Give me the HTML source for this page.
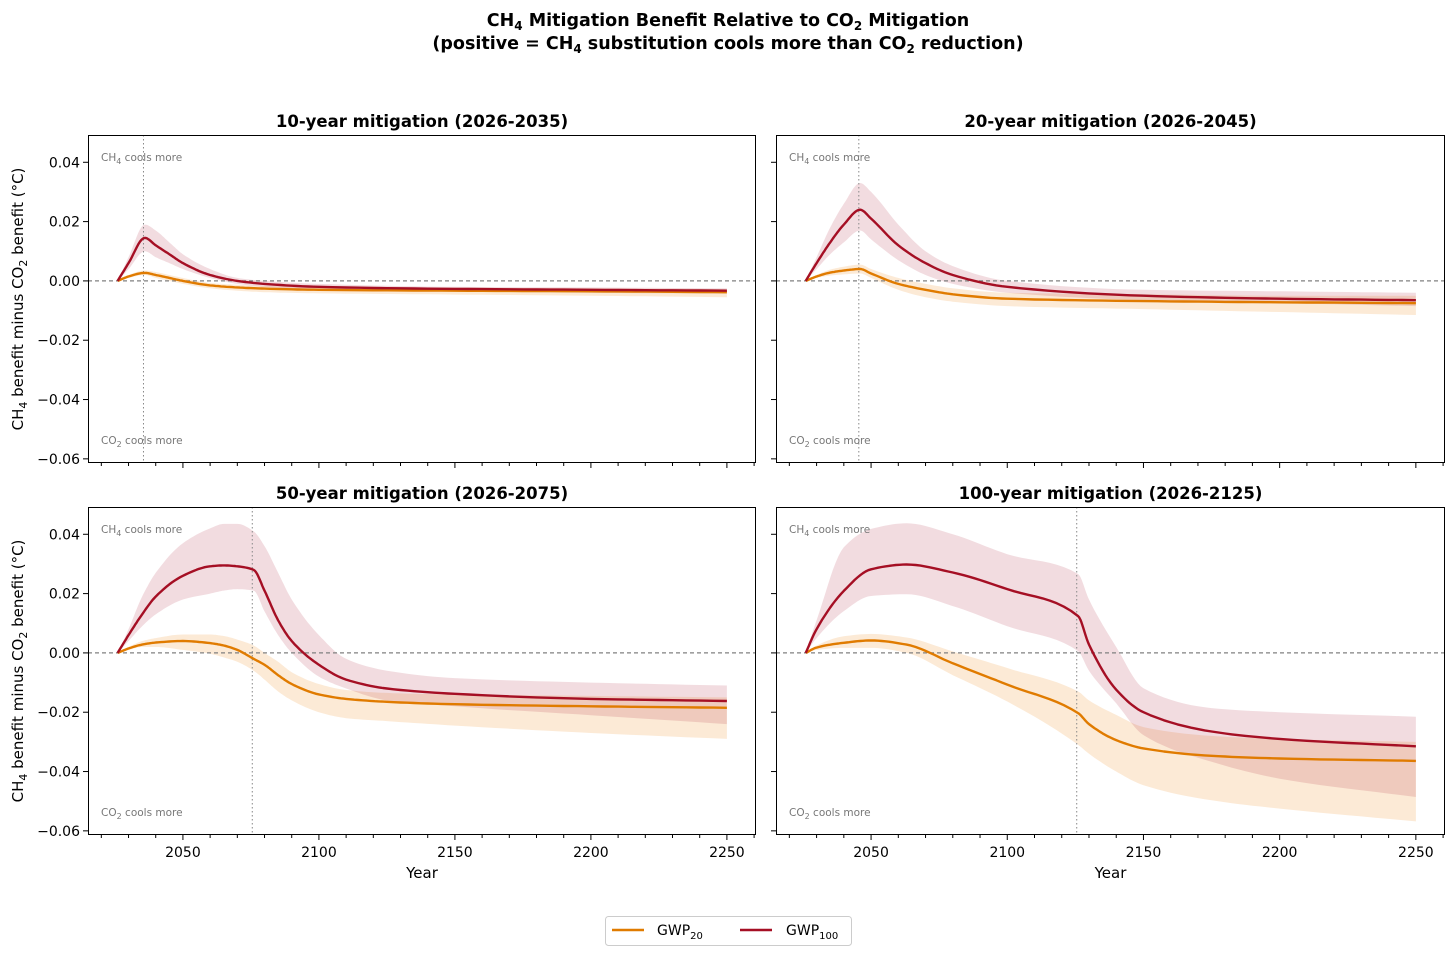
<!DOCTYPE html>
<html><head><meta charset="utf-8"><style>
body{margin:0;background:#fff;}
svg{display:block;font-family:"DejaVu Sans","Liberation Sans",sans-serif;}
</style></head><body>
<svg id="chart" width="1456" height="956">
<text x="728" y="26" text-anchor="middle" font-size="17.5" font-weight="bold">CH<tspan font-size="12" dy="4">4</tspan><tspan dy="-4"> Mitigation Benefit Relative to CO</tspan><tspan font-size="12" dy="4">2</tspan><tspan dy="-4"> Mitigation</tspan></text>
<text x="728" y="49" text-anchor="middle" font-size="17.5" font-weight="bold">(positive = CH<tspan font-size="12" dy="4">4</tspan><tspan dy="-4"> substitution cools more than CO</tspan><tspan font-size="12" dy="4">2</tspan><tspan dy="-4"> reduction)</tspan></text>
<g id="legend">
<rect x="605.5" y="916.5" width="246" height="29" fill="#fff" stroke="#ccc" rx="3"/>
<line x1="612" y1="930" x2="644" y2="930" stroke="#e07b00" stroke-width="2.5"/>
<text x="657" y="935" font-size="14">GWP<tspan font-size="10" dy="4">20</tspan></text>
<line x1="740" y1="930" x2="772" y2="930" stroke="#a50f24" stroke-width="2.5"/>
<text x="786" y="935" font-size="14">GWP<tspan font-size="10" dy="4">100</tspan></text>
</g>
</svg>
<script>
// Panel A: 10-year
const yearsA=[2026,2030,2036,2040,2045,2050,2060,2070,2080,2100,2150,2200,2250];
const g100A=[0,0.006,0.0145,0.012,0.009,0.006,0.002,0,-0.001,-0.002,-0.0027,-0.003,-0.0033];
const g100hiA=[0,0.008,0.019,0.017,0.013,0.009,0.004,0.001,0,-0.001,-0.002,-0.0022,-0.0025];
const g100loA=[0,0.004,0.010,0.008,0.006,0.004,0.001,-0.001,-0.002,-0.003,-0.0035,-0.004,-0.0043];
const g20A=[0,0.0015,0.0027,0.002,0.001,0,-0.0015,-0.0022,-0.0026,-0.003,-0.0033,-0.0035,-0.0038];
const g20hiA=[0,0.002,0.0035,0.003,0.002,0.001,-0.0007,-0.0013,-0.0017,-0.002,-0.0023,-0.0025,-0.0028];
const g20loA=[0,0.001,0.002,0.001,0,-0.001,-0.0025,-0.0033,-0.0038,-0.0042,-0.0046,-0.005,-0.0055];
// Panel B: 20-year
const yearsB=[2026,2030,2035,2040,2046,2050,2060,2070,2080,2100,2150,2200,2250];
const g100B=[0,0.006,0.013,0.019,0.024,0.021,0.012,0.006,0.002,-0.002,-0.005,-0.006,-0.0065];
const g100hiB=[0,0.008,0.018,0.026,0.033,0.030,0.019,0.010,0.005,0,-0.003,-0.0035,-0.004];
const g100loB=[0,0.004,0.009,0.013,0.017,0.014,0.007,0.002,-0.001,-0.004,-0.0065,-0.0075,-0.0085];
const g20B=[0,0.0015,0.0028,0.0035,0.004,0.0025,-0.001,-0.003,-0.0045,-0.006,-0.0068,-0.0072,-0.0075];
const g20hiB=[0,0.002,0.0038,0.0048,0.0055,0.004,0.001,-0.001,-0.0025,-0.004,-0.0045,-0.005,-0.005];
const g20loB=[0,0.001,0.0018,0.0022,0.0025,0.001,-0.003,-0.0055,-0.007,-0.0085,-0.0095,-0.0105,-0.0115];
// Panel C: 50-year
const yearsC=[2026,2030,2035,2040,2050,2060,2065,2070,2076,2080,2085,2090,2100,2110,2125,2150,2200,2250];
const g100C=[0,0.006,0.013,0.019,0.026,0.0292,0.0295,0.0292,0.028,0.021,0.011,0.004,-0.004,-0.009,-0.012,-0.0138,-0.0155,-0.0162];
const g100hiC=[0,0.008,0.019,0.027,0.037,0.042,0.0435,0.0435,0.041,0.036,0.027,0.018,0.006,-0.002,-0.006,-0.0085,-0.010,-0.011];
const g100loC=[0,0.004,0.009,0.013,0.018,0.020,0.021,0.0215,0.021,0.014,0.006,0,-0.008,-0.012,-0.016,-0.018,-0.021,-0.024];
const g20C=[0,0.0015,0.0028,0.0035,0.004,0.0033,0.0025,0.001,-0.002,-0.004,-0.0075,-0.0105,-0.014,-0.0155,-0.0165,-0.0173,-0.018,-0.0185];
const g20hiC=[0,0.002,0.004,0.005,0.0062,0.0062,0.0057,0.0045,0.0025,0,-0.003,-0.0065,-0.0105,-0.0125,-0.0135,-0.014,-0.0145,-0.015];
const g20loC=[0,0.001,0.002,0.002,0.001,-0.0003,-0.0015,-0.003,-0.006,-0.009,-0.013,-0.016,-0.02,-0.022,-0.023,-0.0245,-0.027,-0.029];
// Panel D: 100-year
const yearsD=[2026,2030,2040,2050,2063,2080,2100,2126,2130,2140,2150,2175,2200,2250];
const g100D=[0,0.008,0.0209,0.0282,0.0298,0.0271,0.0215,0.0124,0.0028,-0.0124,-0.020,-0.0265,-0.029,-0.0315];
const g100hiD=[0,0.011,0.0356,0.0418,0.0437,0.040,0.0333,0.0266,0.018,0.002,-0.0119,-0.0186,-0.020,-0.0215];
const g100loD=[0,0.005,0.0141,0.0192,0.0198,0.0158,0.009,0.0006,-0.006,-0.017,-0.0277,-0.0367,-0.0424,-0.0486];
const g20D=[0,0.0018,0.0034,0.0042,0.0028,-0.0035,-0.0107,-0.0203,-0.024,-0.0294,-0.0322,-0.0347,-0.0356,-0.0364];
const g20hiD=[0,0.0025,0.0056,0.0064,0.0052,0.0005,-0.0051,-0.013,-0.016,-0.0209,-0.025,-0.028,-0.029,-0.030];
const g20loD=[0,0.001,0.0017,0.0017,0,-0.0075,-0.0164,-0.031,-0.034,-0.040,-0.0446,-0.0497,-0.0525,-0.0568];

const yTicks=[0.04,0.02,0,-0.02,-0.04,-0.06];
const yTickLabels=["0.04","0.02","0.00","\u22120.02","\u22120.04","\u22120.06"];
const xTicks=[2050,2100,2150,2200,2250];

const NS="http://www.w3.org/2000/svg";
const svg=document.getElementById('chart');
function mk(tag,attrs,parent){const e=document.createElementNS(NS,tag);for(const k in attrs)e.setAttribute(k,attrs[k]);(parent||svg).appendChild(e);return e;}

const panels=[
 {x0:88,x1:756,y0:135,y1:463,title:"10-year mitigation (2026-2035)",end:2035.5,yrs:yearsA,a:[g100A,g100hiA,g100loA,g20A,g20hiA,g20loA],left:true,bottom:false,name:'panel-10yr'},
 {x0:776,x1:1445,y0:135,y1:463,title:"20-year mitigation (2026-2045)",end:2045.5,yrs:yearsB,a:[g100B,g100hiB,g100loB,g20B,g20hiB,g20loB],left:false,bottom:false,name:'panel-20yr'},
 {x0:88,x1:756,y0:507,y1:835,title:"50-year mitigation (2026-2075)",end:2075.5,yrs:yearsC,a:[g100C,g100hiC,g100loC,g20C,g20hiC,g20loC],left:true,bottom:true,name:'panel-50yr'},
 {x0:776,x1:1445,y0:507,y1:835,title:"100-year mitigation (2026-2125)",end:2125.5,yrs:yearsD,a:[g100D,g100hiD,g100loD,g20D,g20hiD,g20loD],left:false,bottom:true,name:'panel-100yr'}
];

// monotone cubic (Fritsch-Carlson) sampling
function smoothPts(xs,ys){
 const n=xs.length,d=[],m=[];
 for(let i=0;i<n-1;i++)d.push((ys[i+1]-ys[i])/(xs[i+1]-xs[i]));
 m[0]=d[0];m[n-1]=d[n-2];
 for(let i=1;i<n-1;i++){
  if(d[i-1]*d[i]<=0)m[i]=0;
  else{const h0=xs[i]-xs[i-1],h1=xs[i+1]-xs[i];const w1=2*h1+h0,w2=h1+2*h0;m[i]=(w1+w2)/(w1/d[i-1]+w2/d[i]);}
 }
 const out=[];
 for(let i=0;i<n-1;i++){
  const h=xs[i+1]-xs[i];
  for(let t=0;t<1;t+=0.1){
   const t2=t*t,t3=t2*t;
   const y=(2*t3-3*t2+1)*ys[i]+(t3-2*t2+t)*h*m[i]+(-2*t3+3*t2)*ys[i+1]+(t3-t2)*h*m[i+1];
   out.push([xs[i]+t*h,y]);
  }
 }
 out.push([xs[n-1],ys[n-1]]);
 return out;
}

panels.forEach(p=>{
 const g=mk('g',{});
 
 
 const sx=v=>p.x0+(v-2015.1)/(2260.7-2015.1)*(p.x1-p.x0);
 const sy=v=>p.y0+(0.0492-v)/(0.0492+0.0614)*(p.y1-p.y0);
 const xs=p.yrs.map(sx);
 function band(hi,lo,fill,name){
  const a=smoothPts(xs,hi.map(sy)),b=smoothPts(xs,lo.map(sy)).reverse();
  const e=mk('path',{d:'M'+a.concat(b).map(q=>q[0].toFixed(1)+','+q[1].toFixed(1)).join('L')+'Z',fill:fill},g);
  
  
 }
 function line(v,col,name){
  const a=smoothPts(xs,v.map(sy));
  const e=mk('path',{d:'M'+a.map(q=>q[0].toFixed(1)+','+q[1].toFixed(1)).join('L'),fill:'none',stroke:col,'stroke-width':2.4,'stroke-linejoin':'round'},g);
  
  
 }
 band(p.a[4],p.a[5],'rgba(240,150,50,0.2)','gwp20-range');
 band(p.a[1],p.a[2],'rgba(175,40,65,0.16)','gwp100-range');
 const z=mk('line',{x1:p.x0,x2:p.x1,y1:sy(0),y2:sy(0),stroke:'#808080','stroke-width':1.2,'stroke-dasharray':'4,3'},g);
 
 
 const ve=mk('line',{x1:sx(p.end),x2:sx(p.end),y1:p.y0,y2:p.y1,stroke:'#888','stroke-width':1,'stroke-dasharray':'1.5,2.5'},g);
 
 
 line(p.a[3],'#e07b00','gwp20-line');
 line(p.a[0],'#a50f24','gwp100-line');
 const fr=mk('rect',{x:p.x0+0.5,y:p.y0+0.5,width:p.x1-p.x0-1,height:p.y1-p.y0-1,fill:'none',stroke:'#000','stroke-width':1},g);
 
 
 const t=mk('text',{x:(p.x0+p.x1)/2,y:p.y0-8,'text-anchor':'middle','font-size':16.5,'font-weight':'bold'},g);
 t.textContent=p.title;
 
 
 const a1=mk('text',{x:p.x0+13,y:p.y0+26,'font-size':10.5,fill:'#777'},g);
 a1.innerHTML='CH<tspan font-size="8" dy="3">4</tspan><tspan dy="-3"> cools more</tspan>';
 
 
 const a2=mk('text',{x:p.x0+13,y:p.y1-19,'font-size':10.5,fill:'#777'},g);
 a2.innerHTML='CO<tspan font-size="8" dy="3">2</tspan><tspan dy="-3"> cools more</tspan>';
 
 
 yTicks.forEach((v,i)=>{
  mk('line',{x1:p.x0-5,x2:p.x0,y1:sy(v),y2:sy(v),stroke:'#000'},g);
  if(p.left){
   const l=mk('text',{x:p.x0-8,y:sy(v)+5,'text-anchor':'end','font-size':14},g);
   l.textContent=yTickLabels[i];
   
   
  }
 });
 for(let yr=2020;yr<=2260;yr+=10){
  const major=xTicks.includes(yr);
  mk('line',{x1:sx(yr),x2:sx(yr),y1:p.y1,y2:p.y1+(major?5:3),stroke:'#000'},g);
 }
 if(p.bottom){
  xTicks.forEach(v=>{
   const l=mk('text',{x:sx(v),y:p.y1+22,'text-anchor':'middle','font-size':14},g);
   l.textContent=v;
   
   
  });
  const xl=mk('text',{x:(p.x0+p.x1)/2,y:p.y1+43,'text-anchor':'middle','font-size':15},g);
  xl.textContent='Year';
  
  
 }
 if(p.left){
  const cy=(p.y0+p.y1)/2;
  const yl=mk('text',{x:0,y:0,'text-anchor':'middle','font-size':15,transform:'translate(23,'+cy+') rotate(-90)'},g);
  yl.innerHTML='CH<tspan font-size="11" dy="4">4</tspan><tspan dy="-4"> benefit minus CO</tspan><tspan font-size="11" dy="4">2</tspan><tspan dy="-4"> benefit (°C)</tspan>';
  
  
 }
});
svg.appendChild(document.getElementById('legend'));
</script>
</body></html>
